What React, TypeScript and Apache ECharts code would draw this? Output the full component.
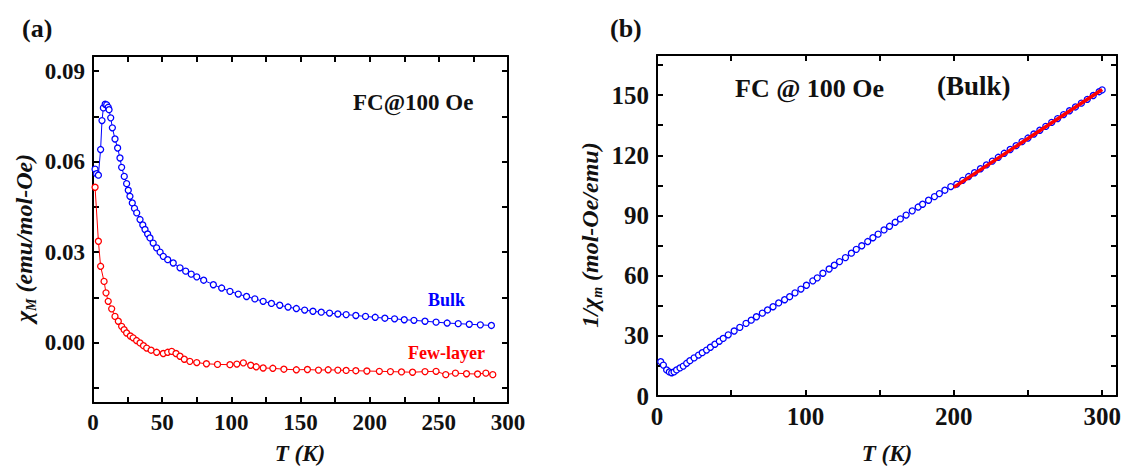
import React, { useEffect, useRef } from 'react';
import * as echarts from 'echarts';

// ---------- Panel (a): chi_M vs T ----------
const bulkT = [1.5, 2.5, 3.9, 5.5, 6.5, 7.5, 8.8, 9.9, 11.0, 11.6, 12.8, 14.0, 15.9, 17.8, 19.5, 20.7, 22.6, 24.3, 25.5, 26.7, 28.4, 30.0, 31.6, 34.0, 36.0, 37.6, 39.5, 41.2, 43.5, 46.0, 48.5, 50.8, 54.0, 58.0, 62.9, 67, 71, 75, 80, 87, 93, 99, 105, 111, 117, 123, 129, 135, 141, 147, 153, 159, 165, 171, 177, 183, 190, 197, 204, 211, 218, 225, 232, 240, 248, 256, 264, 272, 280, 288];
const bulkChi = [0.0575, 0.0560, 0.0555, 0.0640, 0.0736, 0.0778, 0.0790, 0.0788, 0.0780, 0.0772, 0.0745, 0.0712, 0.0675, 0.0645, 0.0612, 0.0581, 0.0551, 0.0527, 0.0505, 0.0485, 0.0463, 0.0445, 0.0430, 0.0408, 0.0390, 0.0375, 0.0360, 0.0347, 0.0330, 0.0314, 0.0300, 0.0286, 0.0275, 0.0264, 0.0248, 0.0237, 0.0227, 0.0218, 0.0207, 0.0192, 0.0181, 0.0170, 0.0161, 0.0153, 0.0145, 0.0137, 0.0130, 0.0124, 0.0118, 0.0113, 0.0108, 0.0104, 0.0101, 0.0098, 0.0095, 0.0093, 0.0090, 0.0087, 0.0084, 0.0081, 0.0079, 0.0076, 0.0074, 0.0071, 0.0068, 0.0065, 0.0063, 0.0061, 0.0059, 0.0057];

const fewT = [1.5, 3.9, 5.5, 8.0, 9.4, 11.0, 13.5, 15.9, 18.3, 20.7, 22.5, 24.3, 27, 29, 31.5, 34, 36.5, 38.8, 42, 46, 50.8, 54, 56.9, 60, 62.9, 66, 70, 75, 82, 90, 99, 104, 108.7, 114, 118, 123, 130, 138, 147, 155, 163, 170, 177, 183, 190, 198, 207, 215, 223, 231, 240, 248, 255, 262, 270, 278, 284, 289];
const fewChi = [0.0515, 0.0336, 0.0253, 0.0203, 0.0165, 0.0137, 0.0112, 0.0087, 0.0071, 0.0054, 0.0043, 0.0032, 0.0022, 0.0016, 0.0007, -0.0001, -0.0010, -0.0018, -0.0025, -0.0032, -0.0036, -0.0032, -0.0029, -0.0036, -0.0045, -0.0055, -0.0062, -0.0066, -0.0070, -0.0072, -0.0073, -0.0071, -0.0067, -0.0075, -0.0080, -0.0084, -0.0085, -0.0088, -0.0090, -0.0089, -0.0091, -0.0090, -0.0091, -0.0092, -0.0093, -0.0094, -0.0095, -0.0096, -0.0097, -0.0098, -0.0096, -0.0095, -0.0106, -0.0101, -0.0103, -0.0104, -0.0101, -0.0106];

const aXLabels = [0, 50, 100, 150, 200, 250, 300];
const aXTicks = [0, 25, 50, 75, 100, 125, 150, 175, 200, 225, 250, 275, 300];
const aYLabels = [0, 0.03, 0.06, 0.09];
const aYTicks = [-0.015, 0, 0.015, 0.03, 0.045, 0.06, 0.075, 0.09];

// ---------- Panel (b): 1/chi vs T ----------
const invT = [2.5, 4.3, 6.5, 8.3, 9.9, 11.5, 13.2, 15.5, 17.7, 20, 22.2, 25, 28, 30.5, 33.4, 36, 39, 42, 44.6, 48, 52, 55.8, 60, 63.5, 67, 71, 74.5, 78.2, 82, 86, 89.4, 93, 97, 100.7, 105, 108, 111.8, 116, 119.5, 123, 127, 131, 134.3, 138, 142, 145.5, 149, 153, 156.7, 160.5, 164, 167.9, 172, 176, 179, 183, 187, 190.3, 194, 198, 202, 206, 210, 214, 218, 222, 226, 230, 234, 238, 242, 246, 250, 254, 258, 262, 266, 270, 274, 278, 282, 286, 290, 294, 298, 300];
const invChi = [17.1, 15.4, 13.0, 12.0, 11.6, 12.0, 13.0, 14.0, 14.9, 16.3, 17.6, 19.0, 20.4, 21.6, 22.9, 24.3, 25.8, 27.3, 28.7, 30.5, 32.4, 34.2, 36.2, 37.8, 39.5, 41.3, 42.9, 44.5, 46.4, 48.0, 49.5, 51.4, 53.3, 55.2, 57.4, 58.9, 61.2, 63.3, 65.2, 67.0, 69.0, 71.2, 73.1, 74.9, 77.0, 78.9, 80.7, 82.8, 84.6, 86.6, 88.3, 90.2, 92.3, 94.2, 95.6, 97.6, 99.4, 100.9, 102.6, 104.4, 105.6, 107.5, 109.4, 111.3, 113.3, 115.2, 117.1, 119.0, 121.0, 122.9, 124.8, 126.8, 128.6, 130.6, 132.5, 134.4, 136.4, 138.3, 140.3, 142.2, 144.1, 146.0, 147.9, 149.8, 151.7, 152.6];
const fitT = [200, 300];
const fitInv = [104.0, 152.8];

const bXLabels = [0, 100, 200, 300];
const bXTicks = [0, 50, 100, 150, 200, 250, 300];
const bYLabels = [0, 30, 60, 90, 120, 150];
const bYTicks = [15, 30, 45, 60, 75, 90, 105, 120, 135, 150, 165];

const FONT = '"Liberation Serif", "Times New Roman", serif';
const BLUE = '#0000ff';
const RED = '#ff0000';

function pairs(xs: number[], ys: number[]) {
  return xs.map((x, i) => [x, ys[i]]);
}

function axis(
  gridIndex: number,
  position: string,
  min: number,
  max: number,
  labels: number[] | null,
  ticks: number[],
  fontSize: number,
  fmt?: (v: number) => string
) {
  return {
    type: 'value',
    gridIndex,
    position,
    min,
    max,
    splitLine: { show: false },
    axisLine: { show: true, onZero: false, lineStyle: { color: '#000', width: 2 } },
    axisTick: { show: true, inside: true, length: 6, customValues: ticks, lineStyle: { color: '#000', width: 2 } },
    minorTick: { show: false },
    axisLabel: labels
      ? {
          show: true,
          customValues: labels,
          color: '#111',
          fontSize,
          fontWeight: 'bold',
          fontFamily: FONT,
          margin: 8,
          formatter: fmt ? (v: number) => fmt(v) : (v: number) => String(v),
        }
      : { show: false },
  };
}

function text(x: number, y: number, t: string, size: number, color = '#111', extra: any = {}) {
  return {
    type: 'text',
    x,
    y,
    style: {
      text: t,
      fill: color,
      fontSize: size,
      fontWeight: 'bold',
      fontFamily: FONT,
      align: 'left',
      verticalAlign: 'middle',
      ...extra,
    },
  };
}

export default function App() {
  const ref = useRef<HTMLDivElement>(null);
  useEffect(() => {
    if (!ref.current) return;
    const chart = echarts.init(ref.current, undefined, { renderer: 'svg' });
    const symStyle = (c: string) => ({ color: '#ffffff', borderColor: c, borderWidth: 1.3 });
    chart.setOption({
      animation: false,
      backgroundColor: '#ffffff',
      grid: [
        { left: 93, top: 56, width: 415, height: 347 },
        { left: 657, top: 55, width: 460, height: 341 },
      ],
      xAxis: [
        axis(0, 'bottom', 0, 300, aXLabels, aXTicks, 23),
        axis(0, 'top', 0, 300, null, aXTicks, 23),
        axis(1, 'bottom', 0, 310, bXLabels, bXTicks, 25),
        axis(1, 'top', 0, 310, null, bXTicks, 25),
      ],
      yAxis: [
        axis(0, 'left', -0.02, 0.095, aYLabels, aYTicks, 23, (v) => v.toFixed(2)),
        axis(0, 'right', -0.02, 0.095, null, aYTicks, 23),
        axis(1, 'left', 0, 170, bYLabels, bYTicks, 25),
        axis(1, 'right', 0, 170, null, bYTicks, 25),
      ],
      series: [
        {
          type: 'line',
          name: 'Bulk',
          xAxisIndex: 0,
          yAxisIndex: 0,
          data: pairs(bulkT, bulkChi),
          symbol: 'circle',
          symbolSize: 6,
          showAllSymbol: true,
          itemStyle: symStyle(BLUE),
          lineStyle: { color: BLUE, width: 1 },
        },
        {
          type: 'line',
          name: 'Few-layer',
          xAxisIndex: 0,
          yAxisIndex: 0,
          data: pairs(fewT, fewChi),
          symbol: 'circle',
          symbolSize: 6,
          showAllSymbol: true,
          itemStyle: symStyle(RED),
          lineStyle: { color: RED, width: 1 },
        },
        {
          type: 'line',
          name: '1/chi Bulk',
          xAxisIndex: 2,
          yAxisIndex: 2,
          data: pairs(invT, invChi),
          symbol: 'circle',
          symbolSize: 6,
          showAllSymbol: true,
          itemStyle: symStyle(BLUE),
          lineStyle: { color: BLUE, width: 1 },
        },
        {
          type: 'line',
          name: 'Fit',
          xAxisIndex: 2,
          yAxisIndex: 2,
          data: pairs(fitT, fitInv),
          symbol: 'none',
          z: 5,
          lineStyle: { color: RED, width: 3.5 },
        },
      ],
      graphic: [
        text(22, 28, '(a)', 26),
        text(610, 28, '(b)', 26),
        text(353, 102, 'FC@100 Oe', 23),
        text(428, 300, 'Bulk', 18, BLUE),
        text(408, 353, 'Few-layer', 18, RED),
        text(735, 88, 'FC @ 100 Oe', 26),
        text(937, 86, '(Bulk)', 27),
        text(300, 453, 'T (K)', 23, '#111', { align: 'center', fontStyle: 'italic' }),
        text(887, 453, 'T (K)', 23, '#111', { align: 'center', fontStyle: 'italic' }),
        {
          type: 'text',
          x: 24,
          y: 238,
          rotation: Math.PI / 2,
          style: {
            text: '{c|χ}{s|M}{c| (emu/mol-Oe)}',
            align: 'center',
            verticalAlign: 'middle',
            fill: '#111',
            fontFamily: FONT,
            rich: {
              c: { fontSize: 24, fontWeight: 'bold', fontStyle: 'italic', fontFamily: FONT, fill: '#111', lineHeight: 28, verticalAlign: 'middle' },
              s: { fontSize: 14, fontWeight: 'bold', fontStyle: 'italic', fontFamily: FONT, fill: '#111', lineHeight: 28, verticalAlign: 'bottom', padding: [12, 0, 0, 0] },
            },
          },
        },
        {
          type: 'text',
          x: 590,
          y: 235,
          rotation: Math.PI / 2,
          style: {
            text: '{c|1/χ}{s|m}{c| (mol-Oe/emu)}',
            align: 'center',
            verticalAlign: 'middle',
            fill: '#111',
            fontFamily: FONT,
            rich: {
              c: { fontSize: 24, fontWeight: 'bold', fontStyle: 'italic', fontFamily: FONT, fill: '#111', lineHeight: 28, verticalAlign: 'middle' },
              s: { fontSize: 14, fontWeight: 'bold', fontStyle: 'italic', fontFamily: FONT, fill: '#111', lineHeight: 28, verticalAlign: 'bottom', padding: [12, 0, 0, 0] },
            },
          },
        },
      ],
    });
    return () => chart.dispose();
  }, []);
  return (
    <div
      ref={ref}
      style={{ position: 'fixed', left: 0, top: 0, width: 1126, height: 469, background: '#fff' }}
    />
  );
}
